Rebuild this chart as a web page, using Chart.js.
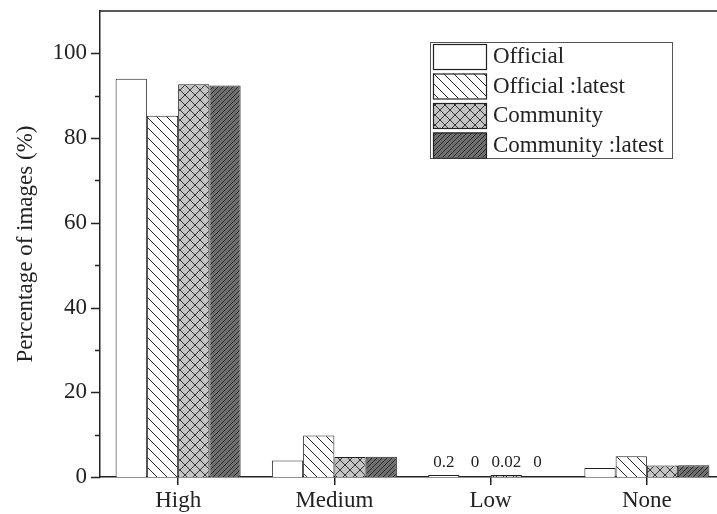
<!DOCTYPE html>
<html>
<head>
<meta charset="utf-8">
<script src="https://cdn.jsdelivr.net/npm/chart.js@4.4.1/dist/chart.umd.min.js"></script>
<style>
  html, body { margin: 0; padding: 0; background: #fff; overflow: hidden; }
  #wrap { width: 717px; height: 514px; overflow: hidden; position: relative; }
  canvas { display: block; }
</style>
</head>
<body>
<div id="wrap"><canvas id="c" width="760" height="514"></canvas></div>
<script>
// ---- data ----
const categories = ['High', 'Medium', 'Low', 'None'];
const seriesNames = ['Official', 'Official :latest', 'Community', 'Community :latest'];
const official = [94.0, 3.9, 0.2, 2.1];
const officialLatest = [85.3, 9.8, 0, 4.9];
const community = [92.7, 4.7, 0.02, 2.7];
const communityLatest = [92.4, 4.8, 0, 2.8];
const yTickLabels = [0, 20, 40, 60, 80, 100];
const annotatedCategory = 'Low';

const FONT = '"Liberation Serif", "DejaVu Serif", serif';
const INK = '#222';

function makePattern(size, bg, stroke, lw, draw) {
  const c = document.createElement('canvas');
  c.width = size; c.height = size;
  const g = c.getContext('2d');
  g.fillStyle = bg; g.fillRect(0, 0, size, size);
  g.strokeStyle = stroke; g.lineWidth = lw;
  g.beginPath(); draw(g, size); g.stroke();
  return g.createPattern(c, 'repeat');
}
function back(g, s) { // "\" lines
  g.moveTo(-1, -1); g.lineTo(s + 1, s + 1);
  g.moveTo(-1, s - 1); g.lineTo(1, s + 1);
  g.moveTo(s - 1, -1); g.lineTo(s + 1, 1);
}
function fwd(g, s) { // "/" lines
  g.moveTo(-1, s + 1); g.lineTo(s + 1, -1);
  g.moveTo(-1, 1); g.lineTo(1, -1);
  g.moveTo(s - 1, s + 1); g.lineTo(s + 1, s - 1);
}
const fills = [
  '#ffffff',
  makePattern(10, '#ffffff', '#222', 1, back),
  makePattern(10, '#c4c4c4', '#333', 1, (g, s) => { back(g, s); fwd(g, s); }),
  makePattern(5, '#6f6f6f', '#2a2a2a', 1, fwd)
];
const seriesData = [official, officialLatest, community, communityLatest];

const datasets = seriesNames.map((n, i) => ({
  label: n,
  data: seriesData[i],
  backgroundColor: fills[i],
  borderColor: INK,
  borderWidth: 1,
  borderSkipped: 'bottom',
  barPercentage: 1.0,
  categoryPercentage: 0.8,
  // tiny non-zero values still show as a thin line (zero values stay empty)
  minBarLength: seriesData[i].some(v => v === 0) ? 0 : 2
}));

const decor = {
  id: 'decor',
  afterDraw(chart) {
    const ctx = chart.ctx;
    const a = chart.chartArea;
    const y = chart.scales.y;
    ctx.save();
    // top frame line
    ctx.strokeStyle = INK; ctx.lineWidth = 1.5;
    ctx.beginPath(); ctx.moveTo(a.left, a.top); ctx.lineTo(a.right, a.top); ctx.stroke();
    // y ticks major/minor
    for (let v = 0; v <= 100; v += 10) {
      const py = Math.round(y.getPixelForValue(v)) + 0.5;
      const len = yTickLabels.includes(v) ? 9 : 5;
      ctx.beginPath(); ctx.moveTo(a.left - len, py); ctx.lineTo(a.left, py); ctx.stroke();
    }
    // value labels above the annotated category
    const ci = categories.indexOf(annotatedCategory);
    ctx.fillStyle = INK;
    ctx.font = '17px ' + FONT;
    ctx.textAlign = 'center'; ctx.textBaseline = 'alphabetic';
    chart.data.datasets.forEach((ds, i) => {
      const el = chart.getDatasetMeta(i).data[ci];
      ctx.fillText(String(ds.data[ci]), el.x, el.base - 10);
    });
    // legend
    const lx = 430, ly = 42, lw = 242, lh = 116;
    ctx.fillStyle = '#fff';
    ctx.fillRect(lx, ly, lw, lh);
    ctx.strokeStyle = '#555'; ctx.lineWidth = 1;
    ctx.strokeRect(lx + 0.5, ly + 0.5, lw, lh);
    ctx.font = '23px ' + FONT;
    ctx.textAlign = 'left'; ctx.textBaseline = 'middle';
    chart.data.datasets.forEach((ds, i) => {
      const ry = ly + 2 + i * 29.5;
      ctx.fillStyle = ds.backgroundColor;
      ctx.fillRect(lx + 3, ry, 53, 25);
      ctx.strokeStyle = INK; ctx.lineWidth = 1.2;
      ctx.strokeRect(lx + 3.5, ry + 0.5, 53, 25);
      ctx.fillStyle = INK;
      ctx.fillText(ds.label, lx + 63, ry + 13);
    });
    ctx.restore();
  }
};

new Chart(document.getElementById('c'), {
  type: 'bar',
  data: { labels: categories, datasets },
  options: {
    responsive: false,
    animation: false,
    devicePixelRatio: 1,
    layout: { padding: { top: 11, right: 35, left: 0, bottom: 0 } },
    plugins: { legend: { display: false }, tooltip: { enabled: false } },
    scales: {
      x: {
        offset: true,
        grid: { display: true, drawOnChartArea: false, drawTicks: true, tickLength: 8, offset: false, color: INK, lineWidth: 1.5 },
        border: { display: true, color: INK, width: 1.5 },
        ticks: { color: INK, font: { family: FONT, size: 23 }, padding: 2, maxRotation: 0 },
        afterFit(s) { s.height = 37; s.paddingLeft = 0; s.paddingRight = 0; }
      },
      y: {
        min: 0, max: 110,
        grid: { display: false, drawTicks: false },
        border: { display: true, color: INK, width: 1.5 },
        ticks: {
          stepSize: 20, color: INK, padding: 13,
          font: { family: FONT, size: 23 },
          callback: v => yTickLabels.includes(v) ? String(v) : ''
        },
        title: { display: true, text: 'Percentage of images (%)', color: INK, font: { family: FONT, size: 23 }, padding: { top: 12, bottom: 4 } },
        afterFit(s) { s.width = 100; s.paddingTop = 0; s.paddingBottom = 0; }
      }
    }
  },
  plugins: [decor]
});
</script>
</body>
</html>
